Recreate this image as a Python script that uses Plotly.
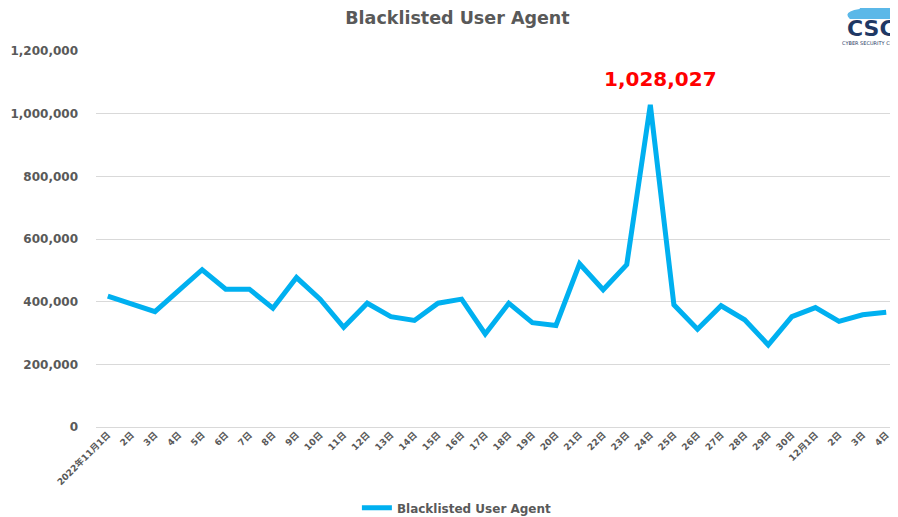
import plotly.graph_objects as go

# Daily labels (Nov 1 - Dec 4, 2022)
day_labels = ["2022年11月1日"] + [f"{d}日" for d in range(2, 31)] + ["12月1日", "2日", "3日", "4日"]

# Blacklisted User Agent counts
blacklisted = [418000, 393000, 368000, 435000, 502000, 440000, 440000, 379000, 477000, 408000,
               318000, 395000, 352000, 340000, 395000, 408000, 297000, 395000, 333000, 324000,
               521000, 438000, 518000, 1028027, 390000, 312000, 387000, 342000, 262000, 352000,
               381000, 337000, 358000, 366000]

y_ticks = [0, 200000, 400000, 600000, 800000, 1000000, 1200000]

x_idx = list(range(len(day_labels)))
peak_i = blacklisted.index(max(blacklisted))

fig = go.Figure()
fig.add_trace(go.Scatter(
    x=x_idx, y=blacklisted,
    mode='lines',
    name='Blacklisted User Agent',
    line=dict(color='#00B0F0', width=5),
))

# peak label
fig.add_annotation(
    x=peak_i, y=blacklisted[peak_i],
    text=f"{blacklisted[peak_i]:,}",
    showarrow=False, yshift=26, xshift=10,
    font=dict(family='DejaVu Sans', size=20, color='#FF0000', weight='bold'),
)

# logo (rough approximation: cloud + CSC text)
fig.add_shape(type='path', xref='paper', yref='paper',
              path='M 0.94 1.085 Q 0.93 1.105 0.952 1.112 Q 0.958 1.135 0.975 1.13 '
                   'Q 0.99 1.15 0.996 1.12 Q 1.005 1.1 0.995 1.085 Z',
              fillcolor='#5BB8E8', line=dict(width=0), layer='above')
fig.add_annotation(
    xref='paper', yref='paper', x=1.0, y=1.06, xanchor='right', yanchor='middle',
    text='<b>CSC</b>', showarrow=False,
    font=dict(family='DejaVu Sans', size=22, color='#1F3864'),
)
fig.add_annotation(
    xref='paper', yref='paper', x=1.0, y=1.022, xanchor='right', yanchor='middle',
    text='CYBER SECURITY CLO', showarrow=False,
    font=dict(family='DejaVu Sans', size=5, color='#1F3864'),
)

fig.update_layout(
    width=890, height=509,
    margin=dict(l=88, r=0, t=43, b=90, autoexpand=False),
    paper_bgcolor='white', plot_bgcolor='white',
    title=dict(text='<b>Blacklisted User Agent</b>', x=0.505, xanchor='center', y=0.981, yanchor='middle',
               font=dict(family='DejaVu Sans', size=17.5, color='#595959')),
    showlegend=True,
    legend=dict(orientation='h', x=0.45, xanchor='center', y=-0.215, yanchor='middle',
                font=dict(family='DejaVu Sans', size=12, color='#595959', weight='bold')),
    xaxis=dict(
        tickmode='array', tickvals=x_idx, ticktext=day_labels,
        range=[-0.5, len(day_labels) - 0.5],
        tickangle=-45, showgrid=False, zeroline=False, automargin=False,
        showline=False, ticks='',
        tickfont=dict(family='DejaVu Sans, Noto Sans CJK JP', size=9, color='#595959', weight='bold'),
    ),
    yaxis=dict(
        range=[0, 1200000], tickvals=y_ticks, tickformat=',d', automargin=False,
        showgrid=True, gridcolor='#D9D9D9', gridwidth=1,
        zeroline=True, zerolinecolor='#D9D9D9', zerolinewidth=1,
        showline=False, ticks='', ticklabelstandoff=17,
        tickfont=dict(family='DejaVu Sans', size=12, color='#595959', weight='bold'),
    ),
)

fig.write_html("out.html")
